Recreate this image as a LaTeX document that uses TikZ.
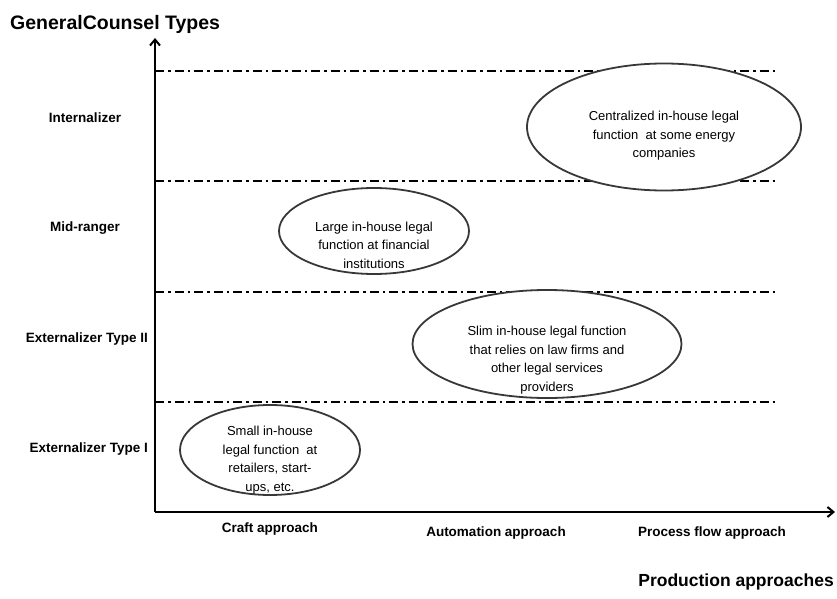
\documentclass[tikz,border=0pt]{standalone}
\usepackage{fontspec}
\setmainfont{Liberation Sans}
\usetikzlibrary{arrows.meta,shapes.geometric}
\begin{document}
\begin{tikzpicture}[x=1pt,y=-1pt,
  lvl/.style={line width=2pt, dash pattern=on 9pt off 4pt on 2.5pt off 4pt},
  oval/.style={ellipse, draw=black!78, line width=1.8pt, fill=white, inner sep=0pt},
  etext/.style={align=center, font=\fontsize{13}{18.5}\selectfont, inner sep=0pt},
  rowlab/.style={font=\bfseries\fontsize{13.5}{15}\selectfont, inner sep=0pt},
  collab/.style={font=\bfseries\fontsize{13.5}{15}\selectfont, inner sep=0pt},
  axis/.style={line width=2pt, -{Straight Barb[length=6pt,width=10pt]}},
  ttl/.style={font=\bfseries\fontsize{19.5}{22}\selectfont, inner sep=0pt},
  ttlb/.style={font=\bfseries\fontsize{17.5}{20}\selectfont, inner sep=0pt}]
\useasboundingbox (0,0) rectangle (837,599);
% axes
\coordinate (O) at (155,512);
\coordinate (ytip) at (155,38);
\coordinate (xtip) at (835,512);
\draw[axis] (O) -- (ytip);
\draw[axis] (O) -- (xtip);
% level lines
\foreach \i/\y in {1/71,2/181,3/292,4/402}{
  \coordinate (l\i a) at (155,\y);
  \coordinate (l\i b) at (778,\y);
  \draw[lvl] (l\i a) -- (l\i b);
}
% ellipses
\node[oval, minimum width=180pt, minimum height=90pt] (e1) at (270,450) {};
\node[etext] (t1) at (270,460) {Small in-house\\legal function\ \ at\\retailers, start-\\ups, etc.};
\node[oval, minimum width=190pt, minimum height=86pt] (e2) at (374,231) {};
\node[etext] (t2) at (374,245) {Large in-house legal\\function at financial\\institutions};
\node[oval, minimum width=269pt, minimum height=108pt] (e3) at (547,344) {};
\node[etext] (t3) at (547,360) {Slim in-house legal function\\that relies on law firms and\\other legal services\\providers};
\node[oval, minimum width=274pt, minimum height=127pt] (e4) at (664,127) {};
\node[etext] (t4) at (664,136) {Centralized in-house legal\\function\ \ at some energy\\companies};
% row labels
\node[rowlab] (r1) at (85,118) {Internalizer};
\node[rowlab] (r2) at (85,228) {Mid-ranger};
\node[rowlab, anchor=east] (r3) at (148,339) {Externalizer Type II};
\node[rowlab, anchor=east] (r4) at (148,449) {Externalizer Type I};
% column labels
\node[collab] (c1) at (270,529) {Craft approach};
\node[collab] (c2) at (496,533) {Automation approach};
\node[collab] (c3) at (712,533) {Process flow approach};
% titles
\node[ttl, anchor=west] (ty) at (10,24) {GeneralCounsel Types};
\node[ttlb, anchor=east] (tx) at (834,582) {Production approaches};
\end{tikzpicture}
\end{document}
